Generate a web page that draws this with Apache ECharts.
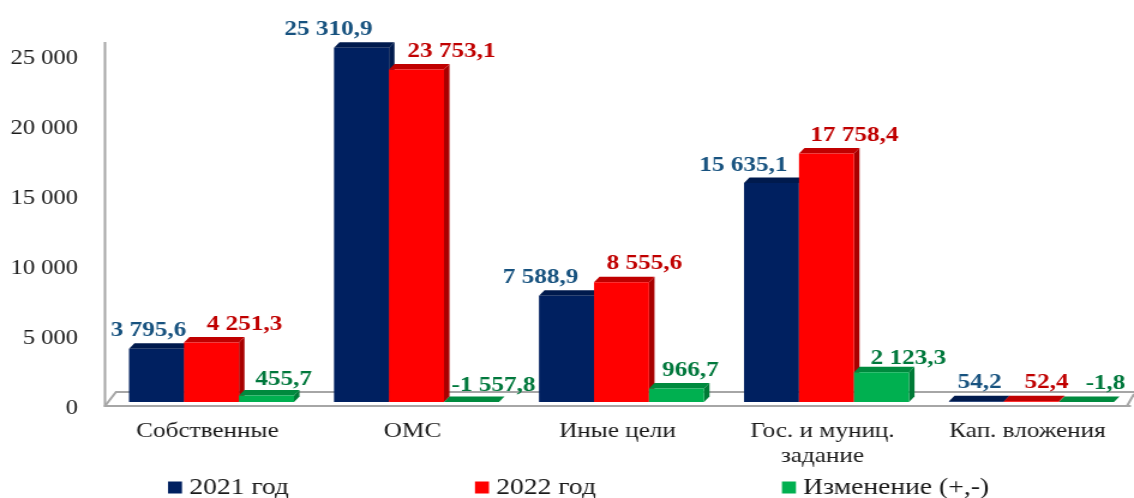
<!DOCTYPE html>
<html><head><meta charset="utf-8">
<style>html,body{margin:0;padding:0;background:#fff;overflow:hidden}
#c{width:945px;height:498px;transform:scaleX(1.2);transform-origin:0 0}</style>
<script src="https://cdn.jsdelivr.net/npm/echarts@6/dist/echarts.min.js"></script></head>
<body><div id="c"></div>
<script>
const categories = ['Собственные','ОМС','Иные цели','Гос. и муниц.\nзадание','Кап. вложения'];
const tickLabels = {0:'0',5000:'5 000',10000:'10 000',15000:'15 000',20000:'20 000',25000:'25 000'};
const values2021 = [3795.6,25310.9,7588.9,15635.1,54.2];
const values2022 = [4251.3,23753.1,8555.6,17758.4,52.4];
const valuesChange = [455.7,-1557.8,966.7,2123.3,-1.8];

// The reference picture is stretched sideways by 1.2; horizontal layout numbers are given in final px.
const SX = 1.2;
const X = px => px / SX;
// layout: label centre relative to the default spot above the bar (final px)
const offs2021 = [[-8,-3],[-33,-3],[-26,-3],[-28,-2],[3,-3]];
const offs2022 = [[33,-2],[35,-2],[23,-3],[28,-2],[15,-3]];
const offsChange = [[17,-1],[22,-1],[14,-2],[27,2],[19,-3]];

const FONT = '"Liberation Serif", serif';
const fmt = v => {
  const neg = v < 0, s = Math.abs(v).toFixed(1).split('.');
  return (neg ? '-' : '') + s[0].replace(/\B(?=(\d{3})+$)/g,' ') + ',' + s[1];
};
const BACKX = X(5.5), BACKY = 5.5, LIFT = 4, SHIFT = X(4), BW = X(55);

function bar3d(idx, front, top, side, labelColor, offs) {
  return (params, api) => {
    const i = api.value(0), v = api.value(1);
    const base = api.coord([i, 0]);
    const h = base[1] - api.coord([i, Math.max(v, 0)])[1];
    const x0 = base[0] + SHIFT + (idx - 1.5) * BW, x1 = x0 + BW;
    const y0 = base[1] - LIFT, y1 = y0 - h;
    const children = [
      {type:'polygon',shape:{points:[[x1,y0],[x1+BACKX,y0-BACKY],[x1+BACKX,y1-BACKY],[x1,y1]]},style:{fill:side}},
      {type:'polygon',shape:{points:[[x0,y1],[x0+BACKX,y1-BACKY],[x1+BACKX,y1-BACKY],[x1,y1]]},style:{fill:top}},
      {type:'rect',shape:{x:x0,y:y1,width:BW,height:h},style:{fill:front}},
      {type:'text',z2:10,style:{text:fmt(v),x:(x0+x1)/2+X(offs[i][0]),y:y1-BACKY-10+offs[i][1],
        align:'center',verticalAlign:'middle',font:'bold 21px '+FONT,fill:labelColor}}
    ];
    return {type:'group',children};
  };
}
function series(name, idx, vals, front, top, side, labelColor, offs) {
  return {name,type:'custom',coordinateSystem:'cartesian2d',clip:false,
    itemStyle:{color:front},
    encode:{x:0,y:1},
    data:vals.map((v,i)=>[i,v]),
    renderItem:bar3d(idx,front,top,side,labelColor,offs)};
}
const GR = '#a6a6a6';
const chart = echarts.init(document.getElementById('c'),null,{renderer:'canvas',width:945,height:498});
chart.setOption({
  animation:false,
  backgroundColor:'#fff',
  grid:{left:X(105),right:X(4),top:56,bottom:92,containLabel:false},
  graphic:{elements:[
    {type:'polyline',z:0,shape:{points:[[X(105),406],[X(116),392],[X(1134),392]]},style:{stroke:GR,lineWidth:2,fill:null}},
    {type:'polyline',z:0,shape:{points:[[X(1127),406],[X(1134),394]]},style:{stroke:GR,lineWidth:2,fill:null}},
    {type:'line',z:0,shape:{x1:X(105),y1:42,x2:X(105),y2:407},style:{stroke:GR,lineWidth:2}}
  ]},
  xAxis:{type:'category',data:categories,
    axisLine:{lineStyle:{color:GR,width:2}},axisTick:{show:false},
    axisLabel:{color:'#1a1a1a',fontFamily:FONT,fontSize:21,margin:13,lineHeight:25,interval:0}},
  yAxis:{type:'value',min:0,max:25000,interval:5000,
    axisLine:{show:false},axisTick:{show:false},splitLine:{show:false},
    axisLabel:{color:'#1a1a1a',fontFamily:FONT,fontSize:20.5,margin:X(27),verticalAlign:'top',lineHeight:6,formatter:v=>tickLabels[v]}},
  legend:{left:X(168),top:476,padding:0,icon:'rect',itemWidth:X(14),itemHeight:12,itemGap:X(186),
    textStyle:{color:'#1a1a1a',fontFamily:FONT,fontSize:23,padding:[0,0,0,1]},
    data:['2021 год','2022 год','Изменение (+,-)']},
  series:[
    series('2021 год',0,values2021,'#002060','#001a4d','#001a4d','#17527f',offs2021),
    series('2022 год',1,values2022,'#ff0000','#c00000','#a80000','#c00000',offs2022),
    series('Изменение (+,-)',2,valuesChange,'#00b050','#008a3e','#007a36','#00783c',offsChange)
  ]
});
</script></body></html>
